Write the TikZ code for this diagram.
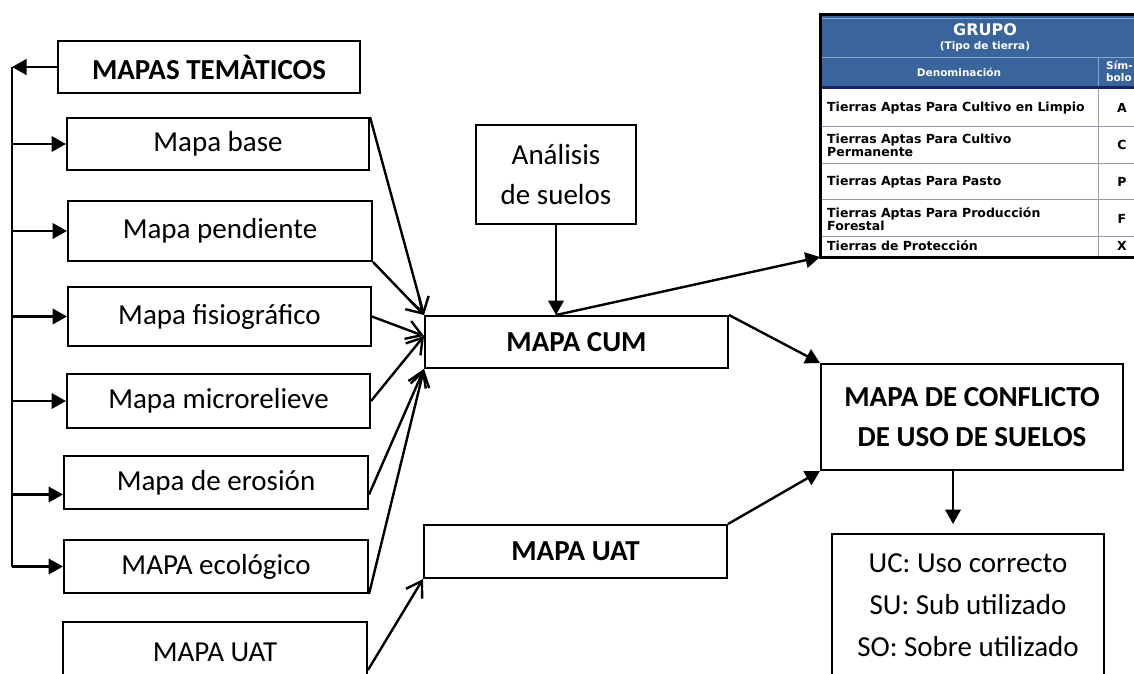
\documentclass[tikz,border=0pt]{standalone}
\usepackage{fontspec}
\setmainfont{Carlito}
\newfontfamily\tabfont{DejaVu Sans}
\usetikzlibrary{arrows.meta}

\definecolor{hdrblue}{RGB}{58,101,156}
\definecolor{hdrline}{RGB}{135,170,210}
\definecolor{navyline}{RGB}{25,35,100}
\definecolor{rowline}{RGB}{150,155,190}

\tikzset{
  mapbox/.style={draw, line width=2pt, inner sep=0pt, align=center, font=\fontsize{29}{40}\selectfont},
  boldbox/.style={mapbox, font=\fontsize{29}{40}\selectfont\bfseries},
  solidarrow/.style={-{Triangle[length=14.5pt,width=15.5pt]}, line width=2.4pt},
  openarrow/.style={-{Straight Barb[length=15pt,width=19pt]}, line width=2.4pt},
  tabtext/.style={font=\tabfont\bfseries\fontsize{12.5}{13}\selectfont, inner sep=0pt, align=left, anchor=west},
  tabhead/.style={font=\tabfont\bfseries\fontsize{10.5}{12}\selectfont, text=white, inner sep=0pt, align=left},
}

\begin{document}
\begin{tikzpicture}[x=1pt, y=-1pt]
    \useasboundingbox (0,0) rectangle (1134,673);
    \clip (0,0) rectangle (1134,673);

    % table of land groups
    \fill[hdrblue] (820,14) rectangle (1150,87);
    \draw[hdrline, line width=1pt] (820,18) -- (1150,18);
    \draw[hdrline, line width=1pt] (820,57) -- (1150,57);
    \draw[hdrline, line width=0.8pt] (1098,57) -- (1098,87);
    \draw[navyline, line width=3pt] (820,87) -- (1150,87);
    \foreach \y in {126,163,199,236}
    \draw[rowline, line width=0.8pt] (820,\y) -- (1150,\y);
    \draw[rowline, line width=0.8pt] (1098,89) -- (1098,257);
    \draw[line width=3pt] (1150,14) -- (820,14) -- (820,257) -- (1150,257);
    \coordinate (tab) at (820,257);

    \node[tabhead, font=\tabfont\bfseries\fontsize{16}{18}\selectfont] (grupo) at (985,30) {GRUPO};
    \node[tabhead] (tipo) at (985,46.5) {(Tipo de tierra)};
    \node[tabhead] (denom) at (959,72) {Denominación};
    \node[tabhead, anchor=west] (simb) at (1106,71) {Sím-\\bolo};

    \node[tabtext] (r1) at (827,108) {Tierras Aptas Para Cultivo en Limpio};
    \node[tabtext] (r2) at (827,145) {Tierras Aptas Para Cultivo\\Permanente};
    \node[tabtext] (r3) at (827,182) {Tierras Aptas Para Pasto};
    \node[tabtext] (r4) at (827,219) {Tierras Aptas Para Producción\\Forestal};
    \node[tabtext] (r5) at (827,246) {Tierras de Protección};
    \foreach \s/\y in {A/108,C/145,P/182,F/219,X/246}
    \node[tabtext, anchor=center] (s\s) at (1122,\y) {\s};

    % boxes
    \node[boldbox, minimum width=302pt, minimum height=52pt] (tem) at (209,67) {MAPAS TEMÀTICOS};
    \node[mapbox, minimum width=302pt, minimum height=52pt] (base) at (218,144) {Mapa base};
    \node[mapbox, minimum width=304pt, minimum height=60pt] (pend) at (220,231) {Mapa pendiente};
    \node[mapbox, minimum width=303pt, minimum height=59pt] (fisio) at (219.5,316.5) {Mapa fisiográfico};
    \node[mapbox, minimum width=303pt, minimum height=54pt] (micro) at (218.5,401) {Mapa microrelieve};
    \node[mapbox, minimum width=304pt, minimum height=53pt] (eros) at (216,482.5) {Mapa de erosión};
    \node[mapbox, minimum width=304pt, minimum height=53pt] (eco) at (216,566.5) {MAPA ecológico};
    \node[mapbox, minimum width=304pt, minimum height=60pt] (uatl) at (215,652) {MAPA UAT};

    \node[mapbox, minimum width=160pt, minimum height=99pt] (ana) at (556,174.5) {Análisis\\de suelos};
    \node[boldbox, minimum width=303pt, minimum height=52pt] (cum) at (576.5,342) {MAPA CUM};
    \node[boldbox, minimum width=303pt, minimum height=53pt] (uatm) at (575.5,551.5) {MAPA UAT};
    \node[boldbox, minimum width=302pt, minimum height=106pt] (conf) at (972,417) {MAPA DE CONFLICTO\\DE USO DE SUELOS};
    \node[mapbox, minimum width=272pt, minimum height=142pt, font=\fontsize{29}{42}\selectfont] (uso) at (968,605) {UC: Uso correcto\\SU: Sub utilizado\\SO: Sobre utilizado};

    % left bracket line
    \coordinate (sptop) at (12,67);
    \coordinate (spbot) at (12,567);
    \coordinate (erosin) at ([yshift=-12pt]eros.west);
    \draw[solidarrow] (tem.west) -- (sptop);
    \draw[line width=2.4pt] (sptop) -- (spbot);
    \foreach \n in {base,pend,fisio,micro,eco}
    \draw[solidarrow] (sptop |- \n.west) -- (\n.west);
    \draw[solidarrow] (sptop |- erosin) -- (erosin);

    % maps into MAPA CUM
    \draw[openarrow] (base.north east) -- (cum.north west);
    \draw[openarrow] (pend.south east) -- (cum.north west);
    \draw[openarrow] (fisio.east) -- ([yshift=6pt]cum.west);
    \draw[openarrow] (micro.east) -- ([yshift=6pt]cum.west);
    \draw[openarrow] (erosin -| eros.east) -- (cum.south west);
    \draw[openarrow] (eco.south east) -- (cum.south west);
    \draw[openarrow] ([yshift=-18pt]uatl.east) -- (uatm.south west);

    % right side
    \draw[solidarrow] (ana.south) -- (ana.south |- cum.north);
    \draw[solidarrow] (ana.south |- cum.north) -- (tab);
    \draw[solidarrow] (cum.north east) -- (conf.north west);
    \draw[solidarrow] (uatm.north east) -- (conf.south west);
    \coordinate (confout) at ([xshift=-19pt]conf.south);
    \draw[solidarrow, shorten >=9pt] (confout) -- (confout |- uso.north);

\end{tikzpicture}
\end{document}
